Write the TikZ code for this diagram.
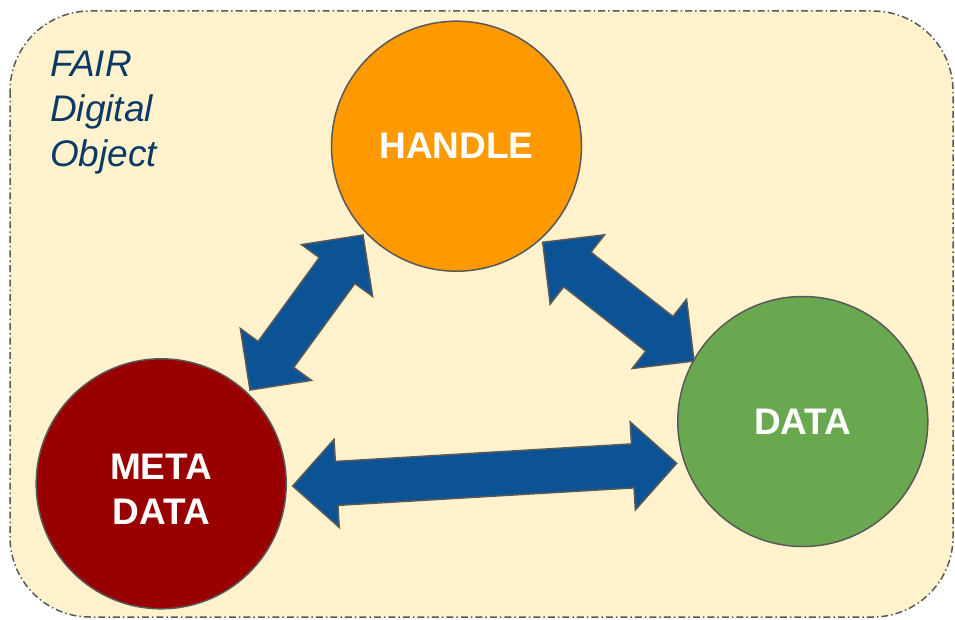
\documentclass[tikz,border=0pt]{standalone}
\usepackage{fontspec}
\setmainfont{Liberation Sans}
\usetikzlibrary{calc}
\definecolor{bgfill}{HTML}{FFF2CC}
\definecolor{edgegray}{HTML}{595959}
\definecolor{handlecol}{HTML}{FF9900}
\definecolor{datacol}{HTML}{6AA84F}
\definecolor{metacol}{HTML}{990000}
\definecolor{arrowcol}{HTML}{0B5394}
\definecolor{titlecol}{HTML}{0B3A66}
\newcommand\blockarrow[2]{%
  \draw[barrow] (#1)
   -- ($(#1)!44pt!(#2)!44pt!90:(#2)$)
   -- ($(#1)!44pt!(#2)!22pt!90:(#2)$)
   -- ($(#2)!44pt!(#1)!22pt!-90:(#1)$)
   -- ($(#2)!44pt!(#1)!44pt!-90:(#1)$)
   -- (#2)
   -- ($(#2)!44pt!(#1)!44pt!90:(#1)$)
   -- ($(#2)!44pt!(#1)!22pt!90:(#1)$)
   -- ($(#1)!44pt!(#2)!22pt!-90:(#2)$)
   -- ($(#1)!44pt!(#2)!44pt!-90:(#2)$)
   -- cycle;}
\begin{document}
\begin{tikzpicture}[x=1pt,y=-1pt,
  bubble/.style={circle,draw=edgegray,line width=1.5pt,minimum size=250pt,inner sep=0pt,
    text=white,font=\fontsize{37}{45}\selectfont\bfseries,align=center},
  barrow/.style={fill=arrowcol,draw=edgegray,line width=1.5pt,line join=miter},
  frame/.style={fill=bgfill,draw=edgegray,line width=1.5pt,rounded corners=80pt,
    dash pattern=on 7pt off 3pt on 1.5pt off 3pt}]
\useasboundingbox (0,0) rectangle (955,620);
\draw[frame] (10,11) rectangle (953,617);
\node[anchor=north west,inner sep=0pt,align=left,text=titlecol,
  font=\fontsize{37}{45}\selectfont\itshape] (title) at (50,51) {FAIR\\Digital\\Object};
% arrow end points
\coordinate (a1) at (363,235);
\coordinate (b1) at (250,390);
\coordinate (a2) at (542.7,242.3);
\coordinate (b2) at (694,361);
\coordinate (a3) at (292.7,486);
\coordinate (b3) at (676.7,463.3);
\blockarrow{a1}{b1}
\blockarrow{a2}{b2}
\blockarrow{a3}{b3}
\node[bubble,fill=handlecol] (handle) at (456.5,146.2) {HANDLE};
\node[bubble,fill=datacol] (data) at (802.8,421.5) {DATA};
\node[bubble,fill=metacol] (meta) at (161.2,483.8) {};
\node[text=white,font=\fontsize{37}{45}\selectfont\bfseries,align=center,inner sep=0pt]
  (metatext) at ($(meta.center)+(0,5.7)$) {META\\DATA};
\end{tikzpicture}
\end{document}
